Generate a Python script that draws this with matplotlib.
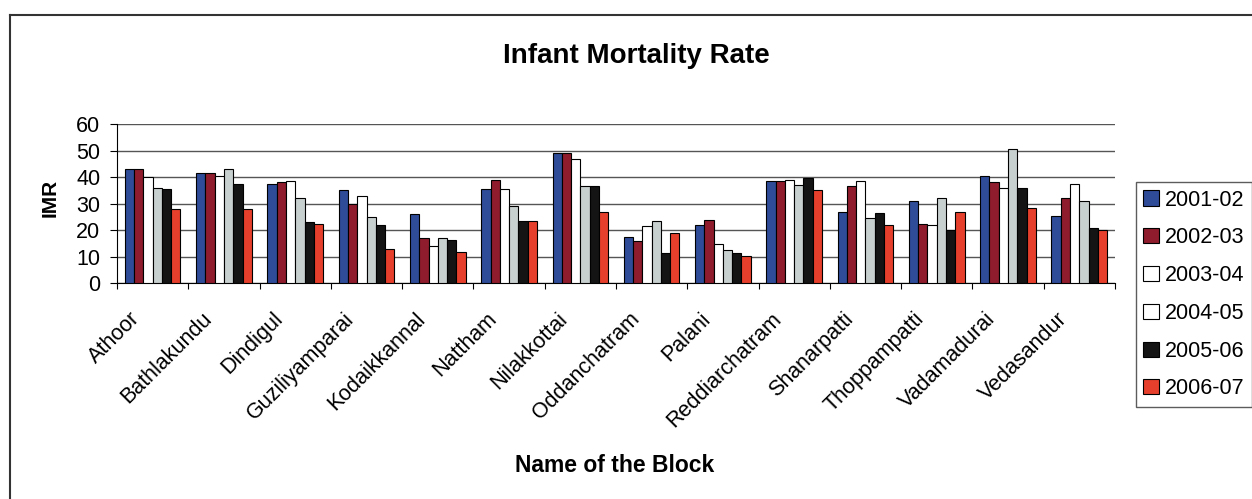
import numpy as np
import matplotlib.pyplot as plt
from matplotlib.lines import Line2D
from matplotlib.transforms import ScaledTranslation

plt.rcParams['font.family'] = ['Liberation Sans', 'DejaVu Sans']

blocks = ['Athoor', 'Bathlakundu', 'Dindigul', 'Guziliyamparai', 'Kodaikkannal',
          'Nattham', 'Nilakkottai', 'Oddanchatram', 'Palani', 'Reddiarchatram',
          'Shanarpatti', 'Thoppampatti', 'Vadamadurai', 'Vedasandur']
years = ['2001-02', '2002-03', '2003-04', '2004-05', '2005-06', '2006-07']

imr_2001 = [43, 41.5, 37.5, 35, 26, 35.5, 49, 17.5, 22, 38.5, 27, 31, 40.5, 25.5]
imr_2002 = [43, 41.5, 38, 30, 17, 39, 49, 16, 24, 38.5, 36.5, 22.5, 38, 32]
imr_2003 = [40, 40.5, 38.5, 33, 14, 35.5, 47, 21.5, 15, 39, 38.5, 22, 36, 37.5]
imr_2004 = [36, 43, 32, 25, 17, 29, 36.5, 23.5, 12.5, 37, 24.5, 32, 50.5, 31]
imr_2005 = [35.5, 37.5, 23, 22, 16.5, 23.5, 36.5, 11.5, 11.5, 39.5, 26.5, 20, 36, 21]
imr_2006 = [28, 28, 22.5, 13, 12, 23.5, 27, 19, 10.5, 35, 22, 27, 28.5, 20]

series = [imr_2001, imr_2002, imr_2003, imr_2004, imr_2005, imr_2006]
colors = ['#2f4c98', '#8e1c2c', '#ffffff', '#c8cfcf', '#141414', '#e6402c']

fig = plt.figure(figsize=(12.52, 4.99), dpi=100)
ax = fig.add_axes([0.0935, 0.432, 0.797, 0.3195])

x = np.arange(len(blocks))
w = 0.13
for i, (vals, c) in enumerate(zip(series, colors)):
    ax.bar(x + (i - 2.5) * w, vals, w, color=c, edgecolor='black', linewidth=0.8,
           label=years[i], zorder=3)

ax.set_xlim(-0.5, len(blocks) - 0.5)
ax.set_ylim(0, 60)
ax.set_yticks(range(0, 61, 10))
ax.yaxis.grid(True, color='#555555', linewidth=1, zorder=0)
ax.set_xticks(np.arange(len(blocks) + 1) - 0.5)
ax.set_xticklabels([])
ax.set_xticks(x, minor=True)
ax.set_xticklabels(blocks, minor=True, rotation=45, ha='right', va='top',
                   rotation_mode='anchor', fontsize=15.5)
ax.tick_params(axis='x', which='minor', length=0, pad=18)
ax.tick_params(axis='x', which='major', length=4, direction='out')
ax.tick_params(axis='y', labelsize=15.5, length=5, pad=7)
shift = ScaledTranslation(-23 / 100, 0, fig.dpi_scale_trans)
for lab in ax.get_xticklabels(minor=True):
    lab.set_transform(lab.get_transform() + shift)
for s in ['top', 'right']:
    ax.spines[s].set_visible(False)

ax.set_title('Infant Mortality Rate', fontsize=20, fontweight='bold', pad=44,
             x=(636 - 117) / 998)
ax.set_ylabel('IMR', fontsize=15, fontweight='bold', va='center')
ax.yaxis.set_label_coords(-0.067, 0.536)
ax.set_xlabel('Name of the Block', fontsize=16.5, fontweight='bold', va='center')
ax.xaxis.set_label_coords(0.499, -1.14)

leg = ax.legend(loc='upper left', bbox_to_anchor=(1019 / 998, (283.5 - 182) / 159.5),
                borderaxespad=0, fontsize=15.5, frameon=True, fancybox=False,
                edgecolor='#333333', handlelength=0.7, handleheight=0.7,
                handletextpad=0.3, labelspacing=0.78, borderpad=0.35)
leg.get_frame().set_linewidth(1)
# the 2004-05 key is drawn white in the original legend
leg.legend_handles[3].set_facecolor('white')

# outer chart frame (only top and left edges visible in the scan)
fig.add_artist(Line2D([10 / 1252, 1], [484 / 499, 484 / 499], color='#333333',
                      linewidth=1.5, transform=fig.transFigure))
fig.add_artist(Line2D([10 / 1252, 10 / 1252], [0, 484 / 499], color='#333333',
                      linewidth=1.5, transform=fig.transFigure))

fig.savefig('out.png', dpi=100)
